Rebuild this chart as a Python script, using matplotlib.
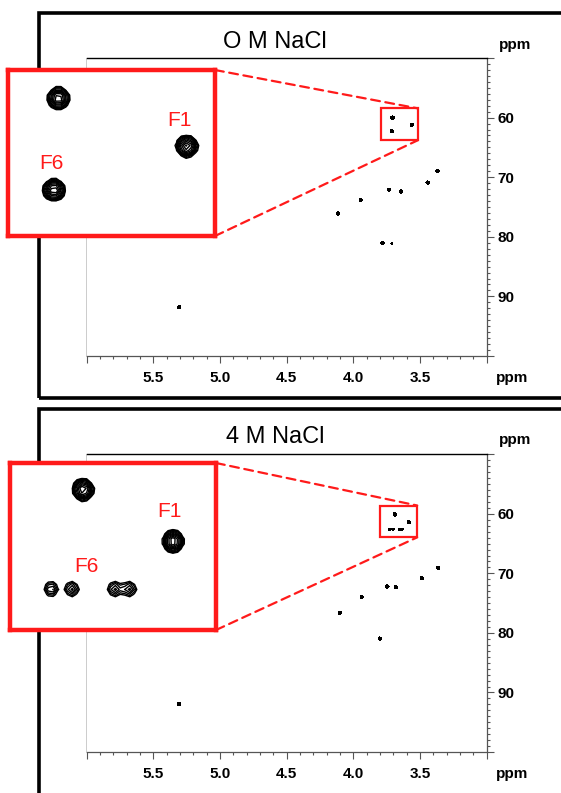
import matplotlib
matplotlib.use("Agg")
import matplotlib.pyplot as plt
import numpy as np
from matplotlib.patches import Rectangle, ConnectionPatch
from matplotlib.ticker import FixedLocator, MultipleLocator, FuncFormatter

plt.rcParams['font.family'] = ['Liberation Sans', 'DejaVu Sans']

# peak lists (1H ppm, 13C ppm, relative intensity)
titles = ["O M NaCl", "4 M NaCl"]

h_0M = [3.705, 3.56, 3.71, 3.367, 3.442, 3.731, 3.643, 3.944, 4.114, 3.78, 3.71, 5.305]
c_0M = [60.0, 61.2, 62.3, 68.95, 70.9, 72.1, 72.4, 73.8, 76.1, 81.1, 81.1, 91.8]
i_0M = [1.0, 1.0, 1.0, 0.8, 0.7, 0.8, 0.7, 0.8, 0.9, 0.8, 0.12, 0.9]

h_4M = [3.688, 3.583, 3.725, 3.701, 3.651, 3.634, 3.362, 3.485, 3.743, 3.68, 3.936, 4.10, 3.80, 5.305]
c_4M = [60.1, 61.4, 62.6, 62.6, 62.6, 62.6, 69.07, 70.8, 72.2, 72.3, 73.95, 76.6, 80.95, 91.95]
i_4M = [1.0, 1.0, 0.2, 0.2, 0.2, 0.2, 0.8, 0.8, 0.8, 0.8, 0.8, 0.9, 0.8, 0.9]

# zoom region marked on the spectrum and the range shown in the enlargement
box_0M = (3.515, 3.79, 58.45, 63.8)
box_4M = (3.52, 3.80, 58.6, 63.95)
view_0M = (3.762, 3.528, 63.45, 59.29)
view_4M = (3.773, 3.533, 63.63, 59.43)

PEAK_SX = 0.0052
PEAK_SY = 0.115

RED = '#ff1a1a'


def spectrum(X, Y, hs, cs, amps):
    Z = np.zeros_like(X)
    for h, c, a in zip(hs, cs, amps):
        Z += a * np.exp(-0.5 * ((X - h) / PEAK_SX) ** 2 - 0.5 * ((Y - c) / PEAK_SY) ** 2)
    return Z


def edge_label(v, pos):
    if v < 3.25 or v > 5.75:
        return ''
    return f'{v:.1f}'


def draw_panel(fig, ax_rect, ins_rect, hs, cs, amps, box, view, f1_pos, f6_pos):
    ax = fig.add_axes(ax_rect)
    ax.set_facecolor('none')

    X, Y = np.meshgrid(np.linspace(3.0, 6.0, 1500), np.linspace(50, 100, 1000))
    Z = spectrum(X, Y, hs, cs, amps)
    ax.contourf(X, Y, Z, levels=[0.05, 100], colors='black')

    ax.set_xlim(6.0, 3.0)
    ax.set_ylim(100, 50)

    ax.spines['left'].set_color('#cccccc')
    ax.spines['left'].set_linewidth(0.7)
    ax.spines['top'].set_color('black')
    ax.spines['top'].set_linewidth(1.0)
    for s in ['right', 'bottom']:
        ax.spines[s].set_color('#555555')
        ax.spines[s].set_linewidth(0.9)

    ax.xaxis.set_major_locator(FixedLocator([3.0, 3.5, 4.0, 4.5, 5.0, 5.5, 6.0]))
    ax.xaxis.set_major_formatter(FuncFormatter(edge_label))
    ax.xaxis.set_minor_locator(MultipleLocator(0.1))
    ax.yaxis.set_major_locator(FixedLocator([50, 60, 70, 80, 90, 100]))
    ax.yaxis.set_major_formatter(FuncFormatter(lambda v, p: '' if v in (50, 100) else f'{v:.0f}'))
    ax.yaxis.set_minor_locator(MultipleLocator(1))
    ax.yaxis.tick_right()
    ax.tick_params(which='both', direction='out', color='#555555', width=0.8)
    ax.tick_params(which='major', length=5)
    ax.tick_params(which='minor', length=2.3)
    ax.tick_params(axis='x', pad=6)
    ax.tick_params(axis='y', which='both', left=False, right=True, pad=3)
    for lab in ax.get_xticklabels() + ax.get_yticklabels():
        lab.set_fontsize(11)
        lab.set_fontweight('bold')

    # small marker box on the spectrum
    x0, x1, y0, y1 = box
    ax.add_patch(Rectangle((x0, y0), x1 - x0, y1 - y0, fill=False,
                           edgecolor=RED, linewidth=1.6, zorder=4))

    # enlargement
    ins = fig.add_axes(ins_rect)
    ins.set_zorder(5)
    ins.set_facecolor('white')
    xa, xb, ya, yb = view
    Xi, Yi = np.meshgrid(np.linspace(xb, xa, 44), np.linspace(yb, ya, 34))
    Zi = spectrum(Xi, Yi, hs, cs, amps)
    ins.contour(Xi, Yi, Zi, levels=np.geomspace(0.06, 0.93, 11),
                colors='black', linewidths=1.0)
    ins.set_xlim(xa, xb)
    ins.set_ylim(ya, yb)
    ins.set_xticks([])
    ins.set_yticks([])
    for s in ins.spines.values():
        s.set_color(RED)
        s.set_linewidth(3.2)
    ins.text(f1_pos[0], f1_pos[1], 'F1', transform=ins.transAxes, color=RED,
             fontsize=15, ha='center', va='center')
    ins.text(f6_pos[0], f6_pos[1], 'F6', transform=ins.transAxes, color=RED,
             fontsize=15, ha='center', va='center')

    for ya_ins, yb_box in [(1, y0), (0, y1)]:
        con = ConnectionPatch(xyA=(1, ya_ins), coordsA=ins.transAxes,
                              xyB=(x0, yb_box), coordsB=ax.transData,
                              color=RED, linewidth=1.6, linestyle=(0, (4, 2.5)))
        con.set_zorder(6)
        fig.add_artist(con)
    return ax


W, H = 561, 793
fig = plt.figure(figsize=(W / 100, H / 100), dpi=100)


def fx(px):
    return px / W


def fy(py):
    return 1 - py / H


# outer frames
fig.add_artist(Rectangle((fx(39), fy(398)), fx(560), fy(13) - fy(398), transform=fig.transFigure,
                         fill=False, edgecolor='black', linewidth=2.6, zorder=0.5))
fig.add_artist(Rectangle((fx(39), fy(830)), fx(560), fy(409) - fy(830), transform=fig.transFigure,
                         fill=False, edgecolor='black', linewidth=2.6, zorder=0.5))

draw_panel(fig, [fx(86.5), fy(356), fx(400), fy(58) - fy(356)],
           [fx(8), fy(236), fx(207), fy(70) - fy(236)],
           h_0M, c_0M, i_0M, box_0M, view_0M, (0.83, 0.693), (0.208, 0.434))
draw_panel(fig, [fx(86.5), fy(752), fx(400), fy(454.3) - fy(752)],
           [fx(10), fy(630), fx(206), fy(463) - fy(630)],
           h_4M, c_4M, i_4M, box_4M, view_4M, (0.774, 0.71), (0.372, 0.38))

for title, ty in zip(titles, [42, 437]):
    fig.text(fx(275), fy(ty), title, fontsize=17, ha='center', va='center')
for py in [45, 440]:
    fig.text(fx(515), fy(py), 'ppm', fontsize=11, fontweight='bold', ha='center', va='center')
for py in [378, 774]:
    fig.text(fx(512), fy(py), 'ppm', fontsize=11, fontweight='bold', ha='center', va='center')

fig.savefig('out.png', dpi=100)
